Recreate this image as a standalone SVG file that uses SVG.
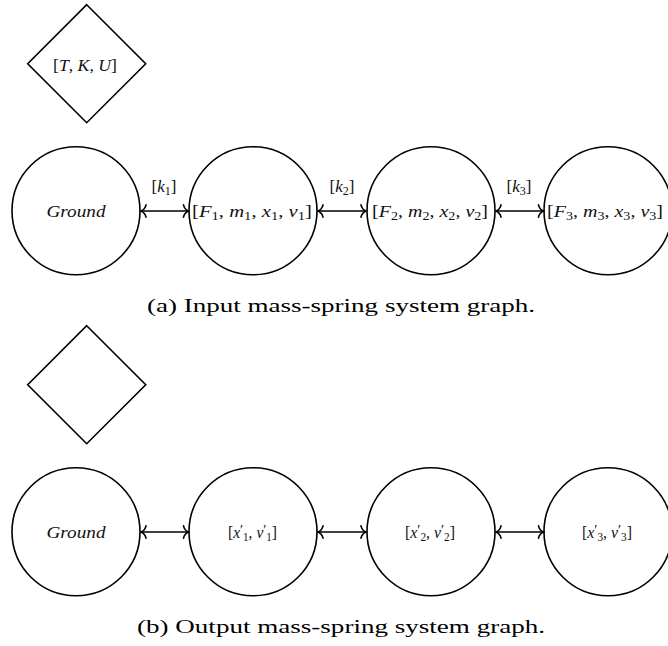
<svg xmlns="http://www.w3.org/2000/svg" width="668" height="646" viewBox="0 0 668 646">
<style>
.n{fill:none;stroke:#000;stroke-width:1.6}
.e{fill:none;stroke:#000;stroke-width:1.6}
.t{font-family:"Liberation Serif","DejaVu Serif",serif;font-size:17px;fill:#111;text-anchor:middle}
.i{font-style:italic}
.s{font-size:12px}
.p{font-size:15px}
.cap{font-family:"Liberation Serif","DejaVu Serif",serif;font-size:18.5px;fill:#000;text-anchor:middle}
</style>
<defs>
<marker id="ah" markerUnits="userSpaceOnUse" markerWidth="14" markerHeight="16" viewBox="-8 -8 10 16" refX="0" refY="0" orient="auto-start-reverse">
<path d="M-5,-6.2 C-4.3,-2.6 -1.4,-0.6 0,0 C-1.4,0.6 -4.3,2.6 -5,6.2" fill="none" stroke="#000" stroke-width="1.6" stroke-linecap="round"/>
</marker>
</defs>

<g id="edges">
<line class="e" x1="141" y1="211" x2="188.5" y2="211" marker-start="url(#ah)" marker-end="url(#ah)"/>
<line class="e" x1="318" y1="211" x2="366" y2="211" marker-start="url(#ah)" marker-end="url(#ah)"/>
<line class="e" x1="496" y1="211" x2="543.5" y2="211" marker-start="url(#ah)" marker-end="url(#ah)"/>
<text class="t" x="164" y="192" textLength="25" lengthAdjust="spacingAndGlyphs">[<tspan class="i">k</tspan><tspan class="s" dy="3">1</tspan><tspan dy="-3">]</tspan></text>
<text class="t" x="342" y="192" textLength="25" lengthAdjust="spacingAndGlyphs">[<tspan class="i">k</tspan><tspan class="s" dy="3">2</tspan><tspan dy="-3">]</tspan></text>
<text class="t" x="519" y="192" textLength="25" lengthAdjust="spacingAndGlyphs">[<tspan class="i">k</tspan><tspan class="s" dy="3">3</tspan><tspan dy="-3">]</tspan></text>
<line class="e" x1="141" y1="532" x2="188.5" y2="532" marker-start="url(#ah)" marker-end="url(#ah)"/>
<line class="e" x1="318" y1="532" x2="366" y2="532" marker-start="url(#ah)" marker-end="url(#ah)"/>
<line class="e" x1="496" y1="532" x2="543.5" y2="532" marker-start="url(#ah)" marker-end="url(#ah)"/>
</g>

<g id="global_a">
<polygon class="n" points="86.7,4.7 145.7,63.7 86.7,122.7 27.7,63.7"/>
<text class="t" x="85" y="71" textLength="64" lengthAdjust="spacingAndGlyphs">[<tspan class="i">T</tspan>, <tspan class="i">K</tspan>, <tspan class="i">U</tspan>]</text>
</g>
<g id="ground_a">
<circle class="n" cx="76" cy="210.8" r="64"/>
<text class="t i" x="76" y="217" textLength="59" lengthAdjust="spacingAndGlyphs">Ground</text>
</g>
<g id="mass1_a">
<circle class="n" cx="253" cy="210.8" r="64"/>
<text class="t" x="252" y="217" textLength="120" lengthAdjust="spacingAndGlyphs">[<tspan class="i">F</tspan><tspan class="s" dy="3">1</tspan><tspan dy="-3">, </tspan><tspan class="i">m</tspan><tspan class="s" dy="3">1</tspan><tspan dy="-3">, </tspan><tspan class="i">x</tspan><tspan class="s" dy="3">1</tspan><tspan dy="-3">, </tspan><tspan class="i">v</tspan><tspan class="s" dy="3">1</tspan><tspan dy="-3">]</tspan></text>
</g>
<g id="mass2_a">
<circle class="n" cx="431" cy="210.8" r="64"/>
<text class="t" x="430" y="217" textLength="116" lengthAdjust="spacingAndGlyphs">[<tspan class="i">F</tspan><tspan class="s" dy="3">2</tspan><tspan dy="-3">, </tspan><tspan class="i">m</tspan><tspan class="s" dy="3">2</tspan><tspan dy="-3">, </tspan><tspan class="i">x</tspan><tspan class="s" dy="3">2</tspan><tspan dy="-3">, </tspan><tspan class="i">v</tspan><tspan class="s" dy="3">2</tspan><tspan dy="-3">]</tspan></text>
</g>
<g id="mass3_a">
<circle class="n" cx="608" cy="210.8" r="64"/>
<text class="t" x="605" y="217" textLength="116" lengthAdjust="spacingAndGlyphs">[<tspan class="i">F</tspan><tspan class="s" dy="3">3</tspan><tspan dy="-3">, </tspan><tspan class="i">m</tspan><tspan class="s" dy="3">3</tspan><tspan dy="-3">, </tspan><tspan class="i">x</tspan><tspan class="s" dy="3">3</tspan><tspan dy="-3">, </tspan><tspan class="i">v</tspan><tspan class="s" dy="3">3</tspan><tspan dy="-3">]</tspan></text>
</g>
<text class="cap" x="341" y="312" textLength="388" lengthAdjust="spacingAndGlyphs">(a) Input mass-spring system graph.</text>

<g id="global_b">
<polygon class="n" points="86.7,325.7 145.7,384.7 86.7,443.7 27.7,384.7"/>
</g>
<g id="ground_b">
<circle class="n" cx="76" cy="531.8" r="64"/>
<text class="t i" x="76" y="538" textLength="59" lengthAdjust="spacingAndGlyphs">Ground</text>
</g>
<g id="mass1_b">
<circle class="n" cx="253" cy="531.8" r="64"/>
<text class="t" x="252.5" y="538" textLength="49" lengthAdjust="spacingAndGlyphs">[<tspan class="i">x</tspan><tspan class="p" dy="-3">′</tspan><tspan class="s" dy="6">1</tspan><tspan dy="-3">, </tspan><tspan class="i">v</tspan><tspan class="p" dy="-3">′</tspan><tspan class="s" dy="6">1</tspan><tspan dy="-3">]</tspan></text>
</g>
<g id="mass2_b">
<circle class="n" cx="431" cy="531.8" r="64"/>
<text class="t" x="430" y="538" textLength="50" lengthAdjust="spacingAndGlyphs">[<tspan class="i">x</tspan><tspan class="p" dy="-3">′</tspan><tspan class="s" dy="6">2</tspan><tspan dy="-3">, </tspan><tspan class="i">v</tspan><tspan class="p" dy="-3">′</tspan><tspan class="s" dy="6">2</tspan><tspan dy="-3">]</tspan></text>
</g>
<g id="mass3_b">
<circle class="n" cx="608" cy="531.8" r="64"/>
<text class="t" x="607" y="538" textLength="50" lengthAdjust="spacingAndGlyphs">[<tspan class="i">x</tspan><tspan class="p" dy="-3">′</tspan><tspan class="s" dy="6">3</tspan><tspan dy="-3">, </tspan><tspan class="i">v</tspan><tspan class="p" dy="-3">′</tspan><tspan class="s" dy="6">3</tspan><tspan dy="-3">]</tspan></text>
</g>
<text class="cap" x="341" y="633" textLength="408" lengthAdjust="spacingAndGlyphs">(b) Output mass-spring system graph.</text>
</svg>
